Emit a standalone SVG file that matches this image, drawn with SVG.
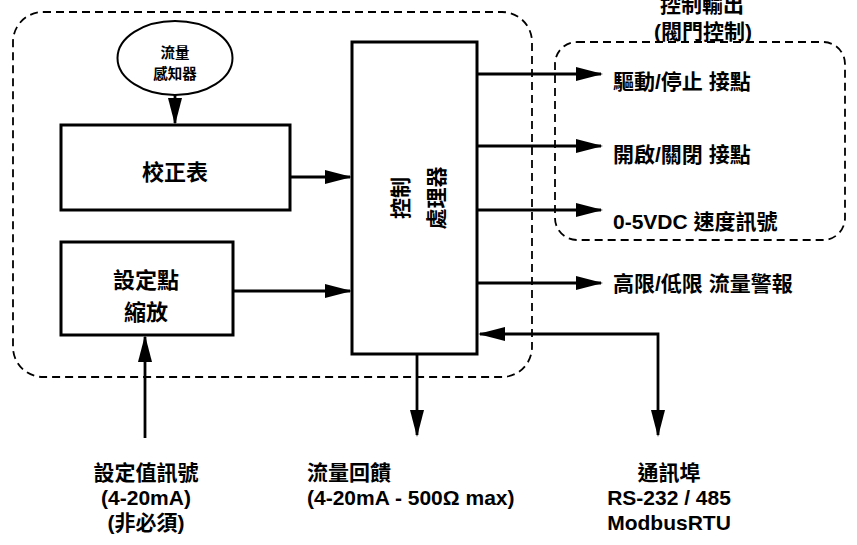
<svg xmlns="http://www.w3.org/2000/svg" width="857" height="545" viewBox="0 0 857 545">
<style>
text{font-family:"Liberation Sans","Noto Sans CJK TC",sans-serif;font-weight:bold;fill:#000}
.box{fill:#fff;stroke:#000;stroke-width:3}
.dash{fill:none;stroke:#000;stroke-width:1.8;stroke-dasharray:8 5}
.ln{fill:none;stroke:#000;stroke-width:2.8}
.lbl{font-size:21px}
.mid{text-anchor:middle}
</style>
<defs>
<marker id="ah" markerUnits="userSpaceOnUse" markerWidth="28" markerHeight="16" viewBox="0 0 28 16" refX="25" refY="8" orient="auto-start-reverse">
<path d="M0,1 L27,8 L0,15 z" fill="#000"/>
</marker>
</defs>
<g id="frame-main"><rect class="dash" x="13" y="12" width="519" height="365" rx="30"/></g>
<g id="frame-output"><rect class="dash" x="555" y="42" width="290" height="198" rx="22"/>
<text class="lbl mid" x="702" y="12">控制輸出</text>
<text class="lbl mid" x="703" y="39">(閥門控制)</text></g>
<g id="sensor"><ellipse cx="175" cy="58" rx="57.5" ry="37" fill="#fff" stroke="#000" stroke-width="2"/>
<text class="mid" font-size="14.5" x="175" y="58">流量</text>
<text class="mid" font-size="14.5" x="175" y="79">感知器</text></g>
<g id="calib"><rect class="box" x="61" y="125" width="229" height="85"/>
<text class="mid" font-size="22" x="175" y="180">校正表</text></g>
<g id="setpoint"><rect class="box" x="61" y="242" width="172" height="93"/>
<text class="mid" font-size="22" x="146" y="288">設定點</text>
<text class="mid" font-size="22" x="146" y="320">縮放</text></g>
<g id="processor"><rect class="box" x="352" y="42" width="125" height="312"/>
<text class="mid" font-size="21" transform="translate(414,198) rotate(-90)"><tspan x="0" y="-6">控制</tspan><tspan x="0" y="30">處理器</tspan></text></g>
<g id="connectors">
<line class="ln" x1="175" y1="95" x2="175" y2="123" marker-end="url(#ah)"/>
<line class="ln" x1="290" y1="177" x2="350" y2="177" marker-end="url(#ah)"/>
<line class="ln" x1="233" y1="291" x2="350" y2="291" marker-end="url(#ah)"/>
<line class="ln" x1="145" y1="438" x2="145" y2="337" marker-end="url(#ah)"/>
<line class="ln" x1="477" y1="74" x2="601" y2="74" marker-end="url(#ah)"/>
<line class="ln" x1="477" y1="146" x2="601" y2="146" marker-end="url(#ah)"/>
<line class="ln" x1="477" y1="210" x2="601" y2="210" marker-end="url(#ah)"/>
<line class="ln" x1="477" y1="283" x2="601" y2="283" marker-end="url(#ah)"/>
<line class="ln" x1="417" y1="354" x2="417" y2="435" marker-end="url(#ah)"/>
<polyline class="ln" points="480,334 658,334 658,435" marker-start="url(#ah)" marker-end="url(#ah)"/>
</g>
<g id="out-labels">
<text class="lbl" x="613" y="89">驅動/停止 接點</text>
<text class="lbl" x="613" y="162">開啟/關閉 接點</text>
<text class="lbl" x="613" y="229">0-5VDC 速度訊號</text>
<text class="lbl" x="613" y="291">高限/低限 流量警報</text>
</g>
<g id="setpoint-signal"><text class="lbl mid" x="146" y="480">設定值訊號</text>
<text class="lbl mid" x="146" y="505">(4-20mA)</text>
<text class="lbl mid" x="146" y="530">(非必須)</text></g>
<g id="flow-feedback"><text class="lbl" x="307" y="480">流量回饋</text>
<text class="lbl" x="307" y="505">(4-20mA - 500Ω max)</text></g>
<g id="comm-port"><text class="lbl mid" x="669" y="480">通訊埠</text>
<text class="lbl mid" x="669" y="505">RS-232 / 485</text>
<text class="lbl mid" x="669" y="530">ModbusRTU</text></g>
</svg>
